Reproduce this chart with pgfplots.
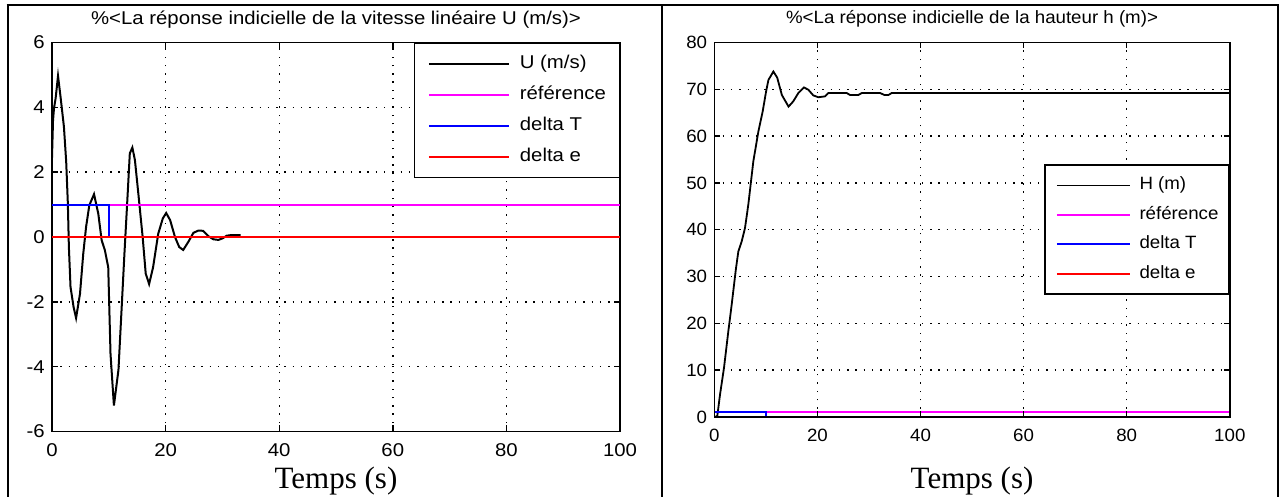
\documentclass[border=0pt]{standalone}
\usepackage{pgfplots}
\pgfplotsset{compat=1.18}
\usepackage{fontspec}
\setmainfont{Liberation Serif}
\newfontfamily\mlL[FakeStretch=1.1]{Liberation Sans}
\newfontfamily\mlR[FakeStretch=1.05]{Liberation Sans}
\definecolor{mmag}{RGB}{255,0,255}
\definecolor{mblue}{RGB}{0,0,255}
\definecolor{mred}{RGB}{255,0,0}
\pgfplotsset{
  mlgrid/.style={grid=major, major grid style={black, line width=1.4pt, dash pattern=on 1.4pt off 6.9pt}},
  mlbase/.style={
    scale only axis, axis line style={black, line width=1.6pt},
    tick align=inside, major tick length=6pt, tick style={black, line width=1.4pt},
    xmin=0, xmax=100, xtick={0,20,40,60,80,100},
    xticklabels={0,20,40,60,80,100},
    xticklabel style={anchor=base, yshift=-25pt, inner sep=0pt},
    yticklabel style={anchor=east, inner sep=0pt, xshift=-7pt},
    title style={at={(0.5,1)}, anchor=base, yshift=12.5pt, inner sep=0pt},
    xlabel style={at={(axis description cs:0.5,0)}, anchor=base, font=\fontsize{31pt}{31pt}\selectfont},
    legend cell align=left,
  },
}
\begin{document}
\begin{tikzpicture}[x=1pt,y=1pt]
\useasboundingbox (0,0) rectangle (1279,497);
% table borders
\draw[line width=2pt] (6.5,491.5) -- (1279,491.5);
\draw[line width=2pt] (7.5,492.5) -- (7.5,-2);
\draw[line width=2pt] (661.5,492.5) -- (661.5,-2);
\draw[line width=2pt] (1277.5,492.5) -- (1277.5,-2);

\begin{axis}[mlbase, mlgrid,
  at={(52pt,65.5pt)}, anchor=south west,
  width=568pt, height=389pt,
  ymin=-6, ymax=6, ytick={-6,-4,-2,0,2,4,6},
  yticklabels={-6,-4,-2,0,2,4,6},
  ticklabel style={font=\mlL\fontsize{18.5pt}{18.5pt}\selectfont},
  title={\%<La réponse indicielle de la vitesse linéaire U (m/s)>},
  title style={font=\mlL\fontsize{18.5pt}{18.5pt}\selectfont},
  xlabel={Temps (s)}, xlabel style={yshift=-57.5pt},
  legend style={at={(1,1)}, anchor=north east, draw=black, line width=1.5pt, fill=white,
    font=\mlL\fontsize{18.5pt}{18.5pt}\selectfont,
    inner xsep=13.4pt, inner ysep=12pt, row sep=14pt, column sep=10pt,
    nodes={inner sep=0pt, text height=13pt, text depth=4pt}},
  legend image code/.code={\draw[#1] (0pt,0pt) -- (80pt,0pt);},
]
\addplot[black, line width=2pt] coordinates {
(0,2.45) (0.18,3.6) (0.35,3.97) (0.64,4.28) (1.06,4.97) (1.5,4.33) (2.1,3.4)
(2.5,2.32) (2.79,1.04) (2.97,-0.3) (3.26,-1.54) (3.8,-2.16) (4.24,-2.5)
(4.93,-1.75) (5.5,-0.52) (6.0,0.31) (6.57,0.98) (7.4,1.32) (8.15,0.72)
(8.74,-0.1) (9.3,-0.4) (9.9,-0.93) (10.3,-3.6) (10.9,-5.2) (11.7,-4.1)
(12.3,-2.06) (12.75,-0.52) (13.2,0.93) (13.7,2.58) (14.15,2.76) (14.6,2.37)
(15.2,1.34) (15.96,0.0) (16.5,-1.13) (17.1,-1.45) (17.8,-0.93) (18.7,0.1)
(19.5,0.57) (20.1,0.74) (20.8,0.52) (21.65,0.0) (22.4,-0.31) (23.1,-0.4)
(24.0,-0.15) (24.9,0.13) (25.8,0.2) (26.6,0.19) (27.5,0.03) (28.4,-0.07)
(29.3,-0.09) (30.05,-0.04) (30.75,0.04) (31.6,0.06) (33.2,0.06)};
\addlegendentry{U (m/s)}
\addplot[mmag, line width=2pt] coordinates {(0,1) (100,1)};
\addlegendentry{référence}
\addplot[mblue, line width=2pt] coordinates {(0,1) (10,1) (10,0) (100,0)};
\addlegendentry{delta T}
\addplot[mred, line width=2pt] coordinates {(0,0) (100,0)};
\addlegendentry{delta e}
\end{axis}

\begin{axis}[mlbase, mlgrid, axis on top,
  at={(714.3pt,80pt)}, anchor=south west,
  width=515.5pt, height=374.5pt,
  ymin=0, ymax=80, ytick={0,10,20,30,40,50,60,70,80},
  yticklabels={0,10,20,30,40,50,60,70,80},
  ticklabel style={font=\mlR\fontsize{17.8pt}{17.8pt}\selectfont},
  title={\%<La réponse indicielle de la hauteur h (m)>},
  title style={font=\mlR\fontsize{17.8pt}{17.8pt}\selectfont},
  xlabel={Temps (s)}, xlabel style={yshift=-72pt},
  legend style={at={(1,0.5)}, anchor=east, draw=black, line width=1.5pt, fill=white,
    font=\mlR\fontsize{17.8pt}{17.8pt}\selectfont,
    inner xsep=10.6pt, inner ysep=12pt, row sep=13pt, column sep=8.7pt,
    nodes={inner sep=0pt, text height=12.5pt, text depth=4pt}},
  legend image code/.code={\draw[#1] (0pt,0pt) -- (73pt,0pt);},
]
\addplot[black, line width=1.8pt] coordinates {
(0,0) (0.58,0.2) (1.11,4.8) (1.88,10.5) (2.72,18.3) (3.37,24.0) (4.21,31.8)
(4.67,35.4) (5.31,37.5) (5.96,40.4) (6.6,45.4) (7.57,54.6) (8.55,61.0)
(9.39,65.3) (10.04,69.5) (10.5,72.0) (11.46,73.8) (12.2,72.5) (13.1,68.8)
(14.4,66.3) (15.3,67.4) (16.3,69.2) (17.4,70.4) (18.25,69.9) (19.2,68.7)
(20.2,68.3) (21.5,68.5) (22.1,69.2) (25.7,69.2) (26.3,68.8) (27.96,68.8)
(28.6,69.2) (32.2,69.2) (32.95,68.8) (33.8,68.8) (34.4,69.2) (100,69.2)};
\addlegendentry{H (m)}
\addplot[mmag, line width=2pt] coordinates {(0,1) (100,1)};
\addlegendentry{référence}
\addplot[mblue, line width=2pt] coordinates {(0,1) (10,1) (10,0) (100,0)};
\addlegendentry{delta T}
\addplot[mred, line width=2pt] coordinates {(0,0) (100,0)};
\addlegendentry{delta e}
\end{axis}
\end{tikzpicture}
\end{document}
